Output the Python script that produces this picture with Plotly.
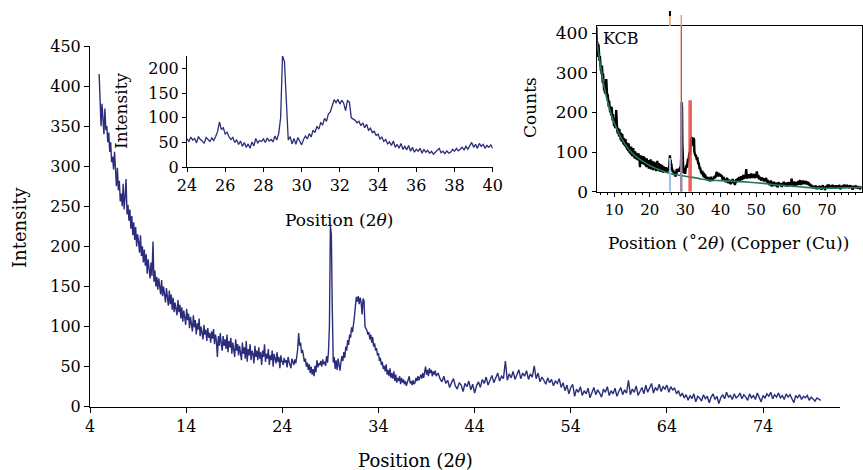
import numpy as np
import plotly.graph_objects as go

# ---------------- data ----------------
seg_a_start, seg_a_step = 4.95, 0.1
seg_a_vals = [415, 368, 350, 378, 362, 340, 372, 345, 350, 330,
              342, 318, 330, 305, 312, 296, 318, 288, 275, 298,
              270, 282, 256, 266, 250, 278, 246, 262, 284, 240,
              252, 232, 246, 222, 238, 214, 230, 208, 224, 200,
              215, 206, 192, 214, 188, 200, 180, 196, 176, 190,
              166, 184, 172, 160, 180, 163, 206, 156, 170, 150,
              162, 146, 160, 152, 140, 158, 138, 150, 142, 130,
              148, 134, 126, 145, 128, 140, 121, 136, 118, 130,
              124, 114, 133, 118, 127, 110, 124, 106, 120, 113,
              102, 122, 108, 116, 98, 112, 104, 94, 114, 99,
              108, 90, 104, 96, 110, 88, 100, 92, 84, 102,
              90, 96, 82, 98, 86, 92, 80, 94, 85, 97,
              78, 90, 82, 62, 88, 76, 92, 79, 70, 88,
              76, 84, 72, 90, 68, 82, 74, 86, 66, 80,
              72, 62, 84, 70, 78, 64, 76, 68, 58, 80,
              66, 74, 60, 82, 56, 72, 64, 78, 58, 70,
              66, 54, 76, 62, 70, 58, 74, 60, 68, 52,
              70, 62, 78, 56, 66, 60, 72, 52, 64, 58,
              70, 50, 66, 60, 54, 68, 56, 62, 48, 64,
              56]
seg_b_start, seg_b_step = 24.0, 0.1
seg_b_vals = [57, 52, 61, 55, 58, 49, 62, 56, 53, 48,
              60, 55, 52, 59, 54, 62, 72, 92, 76, 80,
              67, 71, 61, 56, 60, 50, 55, 46, 53, 42,
              50, 40, 47, 38, 51, 43, 58, 49, 54, 52,
              57, 50, 59, 53, 56, 51, 63, 55, 68, 100,
              226, 215, 120, 55, 62, 47, 58, 46, 60, 51,
              45, 56, 63, 57, 68, 61, 75, 70, 83, 77,
              90, 86, 99, 93, 108, 112, 125, 137, 131, 138,
              128, 136, 130, 115, 135, 132, 100, 98, 95, 90,
              93, 84, 90, 80, 87, 75, 79, 70, 73, 64,
              67, 57, 61, 52, 56, 47, 51, 44, 53, 40,
              46, 38, 48, 36, 42, 35, 44, 32, 40, 30,
              36, 32, 38, 28, 36, 30, 34, 28, 32, 26,
              30, 34, 38, 29, 32, 27, 33, 28, 30, 36,
              32, 38, 33, 36, 40, 35, 42, 36, 44, 50,
              40, 46, 38, 48, 42, 46, 38, 44, 40, 45,
              38]
seg_c_start, seg_c_step = 40.2, 0.2
seg_c_vals = [42, 35, 31, 38, 29, 33, 24, 30, 35, 26,
              22, 30, 27, 19, 29, 25, 32, 21, 28, 17,
              26, 31, 24, 34, 29, 37, 27, 33, 39, 30,
              36, 42, 32, 38, 35, 57, 33, 41, 36, 44,
              34, 40, 46, 35, 42, 38, 45, 34, 41, 37,
              51, 35, 42, 31, 37, 33, 28, 36, 30, 34,
              26, 32, 29, 35, 24, 30, 20, 27, 16, 24,
              28, 13, 22, 18, 25, 14, 20, 16, 23, 11,
              19, 24, 15, 21, 17, 12, 22, 18, 25, 14,
              20, 16, 23, 13, 19, 24, 15, 21, 17, 33,
              15, 22, 18, 26, 14, 20, 24, 16, 27, 18,
              23, 29, 17, 24, 20, 28, 19, 25, 22, 27,
              18, 25, 21, 23, 16, 20, 13, 17, 11, 15,
              8, 14, 10, 16, 6, 13, 11, 7, 15, 10,
              13, 5, 12, 16, 9, 13, 4, 11, 15, 10,
              18, 12, 14, 9, 16, 11, 13, 17, 10, 15,
              12, 8, 16, 11, 14, 9, 17, 12, 6, 14,
              11, 16, 13, 18, 10, 15, 12, 17, 11, 14,
              9, 16, 12, 15, 10, 5, 14, 11, 15, 9,
              13, 11, 14, 8, 12, 10, 7, 11, 9, 8]

bg_theta = [5, 6, 7, 8, 9, 10, 12, 14, 16, 18, 20, 22, 25, 28, 31, 34, 37,
            40, 44, 48, 52, 56, 60, 64, 68, 72, 76, 80]
bg_counts = [385, 325, 272, 232, 200, 173, 135, 108, 90, 77, 66, 58, 48, 42,
             38, 33, 29, 28, 26, 24, 21, 17, 14, 11, 9, 9, 10, 11]

ref_theta = [25.7, 28.9, 31.4]
ref_counts = [85, 226, 231]
ref_colors = ["#9cc2e6", "#9b88a6", "rgba(236,70,70,0.85)"]
ref_widths = [2, 2.5, 3.6]
full_line_theta = 28.9
top_marks_theta = [25.7, 28.9]

main_xticks = [4, 14, 24, 34, 44, 54, 64, 74]
main_yticks = [0, 50, 100, 150, 200, 250, 300, 350, 400, 450]
inset_xticks = [24, 26, 28, 30, 32, 34, 36, 38, 40]
inset_yticks = [0, 50, 100, 150, 200]

# ---------------- build ----------------
theta = np.concatenate([
    seg_a_start + seg_a_step * np.arange(len(seg_a_vals)),
    seg_b_start + seg_b_step * np.arange(len(seg_b_vals)),
    seg_c_start + seg_c_step * np.arange(len(seg_c_vals)),
])
intensity = np.array(seg_a_vals + seg_b_vals + seg_c_vals, dtype=float)

W, H = 863, 470
def px(x):
    return x / W
def py(y):
    return 1 - y / H

NAVY = "#2b2c7a"
FONT = "DejaVu Serif"

fig = go.Figure()
fig.add_trace(go.Scatter(x=theta, y=intensity, mode="lines",
                         line=dict(color=NAVY, width=1.4), xaxis="x", yaxis="y",
                         showlegend=False))
mask = (theta >= 24) & (theta <= 40.05)
fig.add_trace(go.Scatter(x=theta[mask], y=intensity[mask], mode="lines",
                         line=dict(color=NAVY, width=1.3), xaxis="x2", yaxis="y2",
                         showlegend=False))
fig.add_trace(go.Scatter(x=theta, y=intensity, mode="lines",
                         line=dict(color="black", width=2.4), xaxis="x3", yaxis="y3",
                         showlegend=False))
fig.add_trace(go.Scatter(x=bg_theta, y=bg_counts, mode="lines",
                         line=dict(color="#1f7a5a", width=1.6, shape="spline"),
                         xaxis="x3", yaxis="y3", showlegend=False))
fig.add_trace(go.Scatter(x=[full_line_theta, full_line_theta], y=[0, 418], mode="lines",
                         line=dict(color="#e0302a", width=1.2), xaxis="x3", yaxis="y3",
                         showlegend=False))
for t, c, col, w in zip(ref_theta, ref_counts, ref_colors, ref_widths):
    fig.add_trace(go.Scatter(x=[t, t], y=[0, c], mode="lines",
                             line=dict(color=col, width=w), xaxis="x3", yaxis="y3",
                             showlegend=False))

shapes = []
for i, t in enumerate(top_marks_theta):
    top = 12 if i == 0 else 15
    shapes.append(dict(type="line", xref="x3", yref="paper", x0=t, x1=t,
                       y0=py(26), y1=py(top), line=dict(color="#f0a050", width=1.5)))
shapes.append(dict(type="line", xref="x3", yref="paper", x0=top_marks_theta[0],
                   x1=top_marks_theta[0], y0=py(16), y1=py(11),
                   line=dict(color="black", width=2)))

axis_common = dict(showline=True, linecolor="black", linewidth=1, ticks="outside",
                   tickcolor="black", showgrid=False, zeroline=False, automargin=False)
tf16 = dict(family=FONT, size=16, color="black")

fig.update_layout(
    width=W, height=H,
    margin=dict(l=0, r=0, t=0, b=0, pad=0, autoexpand=False), autosize=False,
    paper_bgcolor="white", plot_bgcolor="rgba(0,0,0,0)",
    xaxis=dict(domain=[px(90), px(840)], range=[4, 82], tickvals=main_xticks,
               ticklen=5, anchor="y", tickfont=tf16, **axis_common),
    yaxis=dict(domain=[py(406.7), py(46)], range=[0, 450], tickvals=main_yticks,
               ticklen=5, anchor="x", tickfont=tf16, **axis_common),
    xaxis2=dict(domain=[px(187), px(492.7)], range=[24, 40], tickvals=inset_xticks,
                ticklen=4, anchor="y2", tickfont=tf16, **axis_common),
    yaxis2=dict(domain=[py(167), py(56)], range=[0, 226], tickvals=inset_yticks,
                ticklen=4, anchor="x2", tickfont=tf16, **axis_common),
    xaxis3=dict(domain=[px(596.5), px(861.5)], range=[5, 79.7], tick0=0, dtick=10,
                ticklen=4, anchor="y3", mirror=True,
                tickfont=dict(family=FONT, size=15, color="black"),
                minor=dict(dtick=2, ticklen=2, ticks="outside", tickcolor="black"),
                **axis_common),
    yaxis3=dict(domain=[py(191.7), py(26)], range=[0, 418], tick0=0, dtick=100,
                ticklen=4, anchor="x3", mirror=True,
                tickfont=dict(family=FONT, size=17, color="black"), **axis_common),
    shapes=shapes,
)

annotations = [
    dict(text="Intensity", x=px(19), y=py(228), textangle=-90, size=18),
    dict(text="Position (2<i>θ</i>)", x=px(415), y=py(460), size=18),
    dict(text="Intensity", x=px(121), y=py(111), textangle=-90, size=17),
    dict(text="Position (2<i>θ</i>)", x=px(339), y=py(220), size=17),
    dict(text="Counts", x=px(530), y=py(108), textangle=-90, size=17),
    dict(text="Position (˚2<i>θ</i>) (Copper (Cu))", x=px(728), y=py(243), size=17),
    dict(text="KCB", x=px(621), y=py(39), size=16),
]
for a in annotations:
    size = a.pop("size")
    fig.add_annotation(xref="paper", yref="paper", showarrow=False,
                       xanchor="center", yanchor="middle",
                       font=dict(family=FONT, size=size, color="black"), **a)

fig.write_html("out.html")
